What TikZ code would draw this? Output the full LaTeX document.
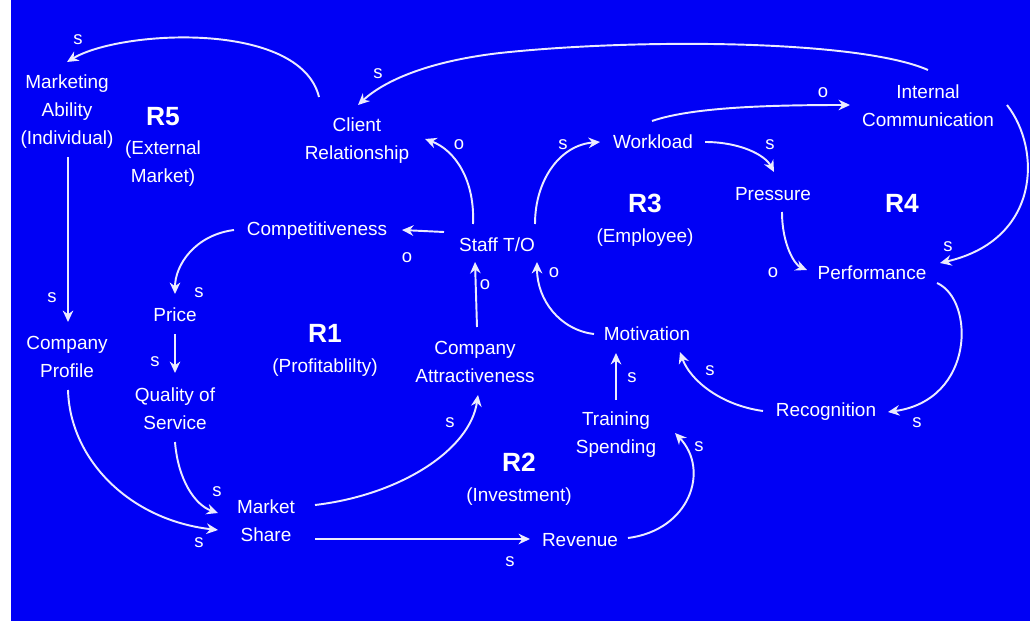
\documentclass[tikz,border=0pt]{standalone}
\usepackage{fontspec}
\setmainfont{Liberation Sans}
\usetikzlibrary{arrows.meta}
\definecolor{bg}{RGB}{0,0,245}
\definecolor{ln}{RGB}{235,235,255}
\begin{document}
\begin{tikzpicture}[x=0.02cm,y=-0.02cm,
 lbl/.style={text=white,align=center,inner sep=0pt,font=\fontsize{10.8}{15.9}\selectfont},
 sgn/.style={text=white,inner sep=0pt,font=\fontsize{10.5}{12}\selectfont},
 loopname/.style={text=white,inner sep=0pt,font=\fontsize{15}{18}\selectfont\bfseries},
 conn/.style={draw=ln,line width=1.1pt,-{Stealth[length=6.5pt,width=6pt]}}]
\useasboundingbox (0,0) rectangle (1030,621);
\fill[white] (0,0) rectangle (11,621);
\fill[bg] (11,0) rectangle (1030,621);

% variables
\node[lbl] (ma) at (67,112) {Marketing\\Ability\\(Individual)};
\node[lbl] (cr) at (357,141) {Client\\Relationship};
\node[lbl] (ic) at (928,106) {Internal\\Communication};
\node[lbl] (wl) at (653,142) {Workload};
\node[lbl] (pr) at (773,194) {Pressure};
\node[lbl] (perf) at (872,273) {Performance};
\node[lbl] (comp) at (317,231) {Competitiveness};
\node[lbl] (st) at (497,245) {Staff T/O};
\node[lbl] (price) at (175,315) {Price};
\node[lbl] (cp) at (67,357) {Company\\Profile};
\node[lbl] (qs) at (175,409) {Quality of\\Service};
\node[lbl] (ca) at (475,362) {Company\\Attractiveness};
\node[lbl] (mot) at (647,334) {Motivation};
\node[lbl] (ts) at (616,435) {Training\\Spending};
\node[lbl] (rec) at (826,412) {Recognition};
\node[lbl] (ms) at (266,521) {Market\\Share};
\node[lbl] (rev) at (580,540) {Revenue};

% loop names
\node[loopname] (r5) at (163,117) {R5};
\node[lbl] (r5t) at (163,164) {(External\\Market)};
\node[loopname] (r3) at (645,203) {R3};
\node[lbl] (r3t) at (645,238) {(Employee)};
\node[loopname] (r4) at (902,203) {R4};
\node[loopname] (r1) at (325,333) {R1};
\node[lbl] (r1t) at (325,368) {(Profitablilty)};
\node[loopname] (r2) at (519,462) {R2};
\node[lbl] (r2t) at (519,497) {(Investment)};

% connectors
\draw[conn] ([shift={(-38,-44)}]cr.center) .. controls (300,20) and (120,30) .. ([shift={(0,-50)}]ma.center);
\draw[conn] ([shift={(0,-36)}]ic.center) .. controls (860,40) and (640,38) .. (500,53) .. controls (430,61) and (385,80) .. ([shift={(1,-36)}]cr.center);
\draw[conn] ([shift={(-1,-21)}]wl.center) .. controls (690,108) and (760,105) .. ([shift={(-78,-1)}]ic.center);
\draw[conn] ([shift={(79,-1)}]ic.center) .. controls (1042,150) and (1040,240) .. ([shift={(68,-10)}]perf.center);
\draw[conn] ([shift={(52,0)}]wl.center) .. controls (740,142) and (765,155) .. ([shift={(1,-22)}]pr.center);
\draw[conn] ([shift={(9,18)}]pr.center) .. controls (782,245) and (795,265) .. ([shift={(-65,-3)}]perf.center);
\draw[conn] ([shift={(65,10)}]perf.center) .. controls (975,300) and (975,400) .. ([shift={(62,0)}]rec.center);
\draw[conn] ([shift={(-63,-1)}]rec.center) .. controls (720,405) and (690,380) .. ([shift={(33,18)}]mot.center);
\draw[conn] ([shift={(0,-35)}]ts.center) -- ([shift={(-31,19)}]mot.center);
\draw[conn] ([shift={(48,-2)}]rev.center) .. controls (690,530) and (710,470) .. ([shift={(59,-2)}]ts.center);
\draw[conn] ([shift={(49,18)}]ms.center) -- ([shift={(-50,-1)}]rev.center);
\draw[conn] ([shift={(49,-16)}]ms.center) .. controls (400,495) and (470,450) .. ([shift={(3,33)}]ca.center);
\draw[conn] ([shift={(2,-35)}]ca.center) -- ([shift={(-22,17)}]st.center);
\draw[conn] ([shift={(-53,0)}]mot.center) .. controls (560,330) and (537,300) .. ([shift={(40,17)}]st.center);
\draw[conn] ([shift={(-24,-21)}]st.center) .. controls (475,180) and (455,150) .. ([shift={(68,-2)}]cr.center);
\draw[conn] ([shift={(38,-21)}]st.center) .. controls (535,180) and (560,145) .. ([shift={(-53,0)}]wl.center);
\draw[conn] ([shift={(-53,-13)}]st.center) -- ([shift={(85,-1)}]comp.center);
\draw[conn] ([shift={(-83,-1)}]comp.center) .. controls (195,235) and (175,265) .. ([shift={(0,-21)}]price.center);
\draw[conn] ([shift={(0,19)}]price.center) -- ([shift={(0,-36)}]qs.center);
\draw[conn] ([shift={(1,45)}]ma.center) -- ([shift={(1,-35)}]cp.center);
\draw[conn] ([shift={(1,33)}]cp.center) .. controls (70,460) and (130,520) .. ([shift={(-48,9)}]ms.center);
\draw[conn] ([shift={(0,33)}]qs.center) .. controls (178,480) and (195,505) .. ([shift={(-48,-8)}]ms.center);

% polarity signs
\node[sgn] (l1) at (78,40) {s};
\node[sgn] (l2) at (378,74) {s};
\node[sgn] (l3) at (823,93) {o};
\node[sgn] (l4) at (948,247) {s};
\node[sgn] (l5) at (770,145) {s};
\node[sgn] (l6) at (773,273) {o};
\node[sgn] (l7) at (917,423) {s};
\node[sgn] (l8) at (710,371) {s};
\node[sgn] (l9) at (632,378) {s};
\node[sgn] (l10) at (699,447) {s};
\node[sgn] (l11) at (510,562) {s};
\node[sgn] (l12) at (450,423) {s};
\node[sgn] (l13) at (485,285) {o};
\node[sgn] (l14) at (554,273) {o};
\node[sgn] (l15) at (459,145) {o};
\node[sgn] (l16) at (563,145) {s};
\node[sgn] (l17) at (407,258) {o};
\node[sgn] (l18) at (199,293) {s};
\node[sgn] (l19) at (155,362) {s};
\node[sgn] (l20) at (52,298) {s};
\node[sgn] (l21) at (199,543) {s};
\node[sgn] (l22) at (217,492) {s};
\end{tikzpicture}
\end{document}
